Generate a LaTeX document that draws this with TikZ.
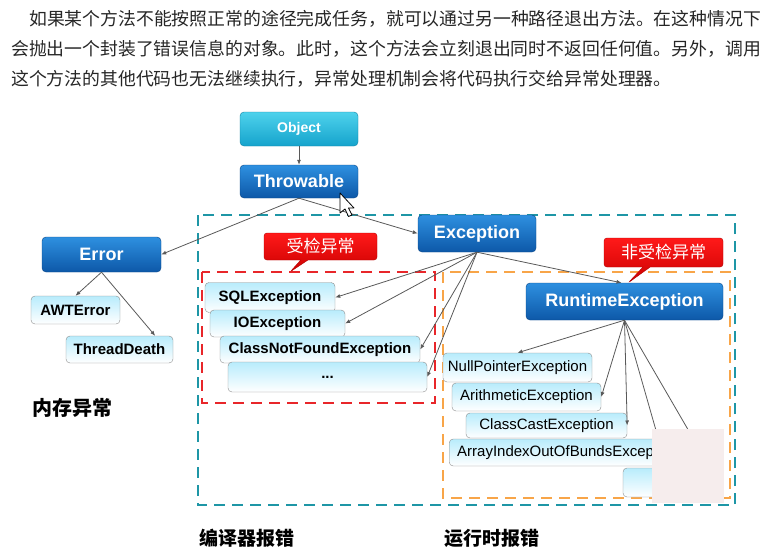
\documentclass[tikz,border=0pt]{standalone}
\usepackage{fontspec}
\setmainfont{Liberation Sans}
\newfontfamily\cjk{Noto Sans CJK SC}
\usetikzlibrary{arrows.meta,shapes.callouts}
\definecolor{objtop}{HTML}{4ED2EC}
\definecolor{objbot}{HTML}{15A3CC}
\definecolor{bluetop}{HTML}{2E90E0}
\definecolor{bluebot}{HTML}{0D58A8}
\definecolor{lighttop}{HTML}{B8ECFC}
\definecolor{tealdash}{HTML}{1E96A6}
\definecolor{reddash}{HTML}{E8262A}
\definecolor{orangedash}{HTML}{F8A548}
\definecolor{coverpink}{HTML}{F6EDED}
\tikzset{
  kbase/.style={rounded corners=4pt, inner sep=0pt},
  kobj/.style={kbase, draw=objbot!80!black, top color=objtop, bottom color=objbot, text=white, font=\fontsize{14}{16}\selectfont\bfseries},
  kblue/.style={kbase, draw=bluebot!80!black, top color=bluetop, bottom color=bluebot, text=white, font=\fontsize{18}{20}\selectfont\bfseries},
  klight/.style={kbase, draw=black!45, top color=lighttop, bottom color=white, text=black, font=\fontsize{15}{17}\selectfont\bfseries},
  kplain/.style={klight, font=\fontsize{15}{17}\selectfont},
  ksay/.style={rectangle callout, rounded corners=3pt, draw=red!70!black, top color=red!90, bottom color=red!80!black, text=white, font=\cjk\fontsize{17}{19}\selectfont, inner sep=0pt},
  ktext/.style={anchor=west, inner sep=0pt, text=black!85, font=\cjk\fontsize{17.85}{20}\selectfont},
  klabel/.style={inner sep=0pt, text=black, font=\cjk\bfseries\fontsize{19}{21}\selectfont},
  kgroup/.style={dash pattern=on 11pt off 7pt, line width=2.6pt},
  flow/.style={-{Latex[length=5pt,width=4pt]}, draw=black!65, line width=0.8pt},
}

\begin{document}
\begin{tikzpicture}[x=1pt, y=-1pt]
    \useasboundingbox (0,0) rectangle (771,554);
    % intro text
    \node[ktext] (line1) at (29,18.5) {如果某个方法不能按照正常的途径完成任务，就可以通过另一种路径退出方法。在这种情况下};
    \node[ktext] (line2) at (11,49) {会抛出一个封装了错误信息的对象。此时，这个方法会立刻退出同时不返回任何值。另外，调用};
    \node[ktext] (line3) at (11,79) {这个方法的其他代码也无法继续执行，异常处理机制会将代码执行交给异常处理器。};
    % groups
    \draw[kgroup, tealdash] (198,215) rectangle (735,505);
    \draw[kgroup, reddash] (202,272) rectangle (435,403);
    \draw[kgroup, orangedash] (443,272) rectangle (730,498);
    % hierarchy
    \node[kobj, minimum width=118pt, minimum height=34pt] (object) at (299,129) {Object};
    \node[kblue, minimum width=118pt, minimum height=33pt] (throw) at (299,181.5) {Throwable};
    \node[kblue, minimum width=119pt, minimum height=35pt] (error) at (101.5,254.5) {Error};
    \node[kblue, minimum width=118pt, minimum height=37pt] (exc) at (477,233.5) {Exception};
    \node[kblue, minimum width=197pt, minimum height=37pt] (rt) at (624.5,301.5) {RuntimeException};
    \node[klight, minimum width=89pt, minimum height=28pt] (awt) at (75.5,310) {AWTError};
    \node[klight, minimum width=107pt, minimum height=27pt] (death) at (119.5,349.5) {ThreadDeath};
    \node[klight, minimum width=130pt, minimum height=30pt] (sql) at (270,297.5) {SQLException};
    \node[klight, minimum width=135pt, minimum height=27pt] (io) at (277.5,323.5) {IOException};
    \node[klight, minimum width=200pt, minimum height=27pt] (cnf) at (320,349.5) {ClassNotFoundException};
    \node[klight, minimum width=199pt, minimum height=30pt] (dots) at (327.5,377) {...};
    \node[kplain, minimum width=149pt, minimum height=29pt] (npe) at (517.5,367.5) {NullPointerException};
    \node[kplain, minimum width=149pt, minimum height=28pt] (arith) at (526.5,397) {ArithmeticException};
    \node[kplain, minimum width=161pt, minimum height=25pt] (cast) at (546.5,425.5) {ClassCastException};
    \node[kplain, anchor=west, text width=244pt, inner xsep=8pt, minimum height=27pt] (aio) at (449,452.5) {ArrayIndexOutOfBundsExcep};
    \node[kplain, minimum width=87pt, minimum height=29pt] (more) at (666.5,482.5) {};
    % callouts
    \node[ksay, minimum width=113pt, minimum height=27pt, callout absolute pointer={(290,272)}] (checked) at (320.5,246.5) {受检异常};
    \node[ksay, minimum width=119pt, minimum height=29pt, callout absolute pointer={(628,283)}] (unchecked) at (663.5,252.5) {非受检异常};
    % arrows
    \draw[flow] (object) -- (throw);
    \draw[flow] (throw.south) -- (error.east);
    \draw[flow] (throw.south) -- (exc.west);
    \draw[flow] (error.south) -- (awt.north);
    \draw[flow] (error.south) -- ([xshift=-18pt]death.north east);
    \draw[flow] (exc.south) -- (sql.east);
    \draw[flow] (exc.south) -- (io.east);
    \draw[flow] (exc.south) -- (cnf.east);
    \draw[flow] (exc.south) -- (dots.east);
    \draw[flow] (exc.south) -- ([xshift=-3pt]rt.north);
    \draw[flow] (rt.south) -- (npe.north);
    \draw[flow] (rt.south) -- (arith.east);
    \draw[flow] (rt.south) -- (cast.east);
    \draw[flow] (rt.south) -- ([xshift=-51pt]aio.north east);
    \draw[flow] (rt.south) -- (more.north east);
    % cover and cursor
    \fill[coverpink] (652,429) rectangle (724,503);
    \draw[fill=white, line width=0.8pt, line join=round] (340,193) -- ++(0,20) -- ++(5,-4) -- ++(3.5,7.5) -- ++(3.5,-1.5) -- ++(-3.5,-7) -- ++(5.5,0) -- cycle;
    % labels
    \node[klabel, font=\cjk\bfseries\fontsize{20}{22}\selectfont] (memory) at (72,408) {内存异常};
    \node[klabel] (compile) at (247,538) {编译器报错};
    \node[klabel] (runtime) at (492,538) {运行时报错};
  \end{tikzpicture}
\end{document}
